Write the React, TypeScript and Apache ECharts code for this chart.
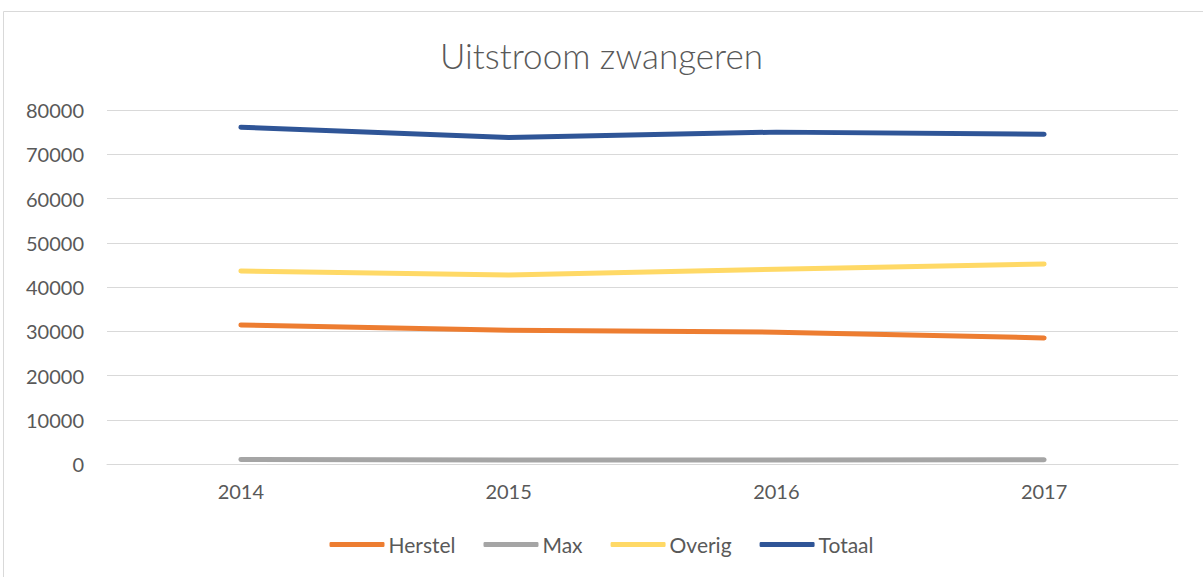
import React, { useEffect, useRef } from "react";
import * as echarts from "echarts";

const years = ["2014", "2015", "2016", "2017"];
const herstel = [31400, 30200, 29800, 28500];
const maxVals = [1000, 900, 900, 950];
const overig = [43600, 42700, 44000, 45200];
const totaal = [76100, 73800, 75000, 74500];

const FONT = "Lato, 'Open Sans', sans-serif";
const TXT = "#595959";

export default function App() {
  const ref = useRef<HTMLDivElement>(null);
  useEffect(() => {
    if (!ref.current) return;
    const chart = echarts.init(ref.current, undefined, { renderer: "svg" });
    const mk = (name: string, data: number[], color: string) => ({
      name,
      type: "line",
      data,
      showSymbol: false,
      symbol: "none",
      lineStyle: { width: 5, color, cap: "round", join: "round" },
      itemStyle: { color },
    });
    chart.setOption({
      animation: false,
      backgroundColor: "#fff",
      textStyle: { fontFamily: FONT },
      title: {
        text: "Uitstroom zwangeren",
        left: "center",
        top: 32,
        textStyle: { fontFamily: FONT, fontSize: 35, fontWeight: 300, color: TXT },
      },
      graphic: [
        {
          type: "rect",
          shape: { x: 3.5, y: 11.5, width: 1210, height: 600 },
          style: { fill: "none", stroke: "#d9d9d9", lineWidth: 1 },
          silent: true,
        },
      ],
      grid: { left: 107, right: 25, top: 110, bottom: 113 },
      legend: {
        bottom: 17,
        left: "center",
        itemWidth: 55,
        itemHeight: 5,
        itemGap: 28,
        icon: "roundRect",
        textStyle: { fontFamily: FONT, fontSize: 21, color: TXT, padding: [0, 0, 0, -1] },
        data: ["Herstel", "Max", "Overig", "Totaal"],
      },
      xAxis: {
        type: "category",
        data: years,
        boundaryGap: true,
        axisLine: { show: true, lineStyle: { color: "#d9d9d9", width: 1 } },
        axisTick: { show: false },
        axisLabel: { fontFamily: FONT, fontSize: 20, color: TXT, margin: 17 },
      },
      yAxis: {
        type: "value",
        min: 0,
        max: 80000,
        interval: 10000,
        axisLine: { show: false },
        axisTick: { show: false },
        splitLine: { lineStyle: { color: "#d9d9d9", width: 1 } },
        axisLabel: {
          fontFamily: FONT,
          fontSize: 20,
          color: TXT,
          margin: 23,
          formatter: (v: number) => String(v),
        },
      },
      series: [
        mk("Herstel", herstel, "#ED7D31"),
        mk("Max", maxVals, "#A5A5A5"),
        mk("Overig", overig, "#FFD966"),
        mk("Totaal", totaal, "#2F5597"),
      ],
    });
    return () => chart.dispose();
  }, []);
  return (
    <div
      ref={ref}
      style={{ position: "fixed", left: 0, top: 0, width: 1203, height: 577 }}
    />
  );
}
